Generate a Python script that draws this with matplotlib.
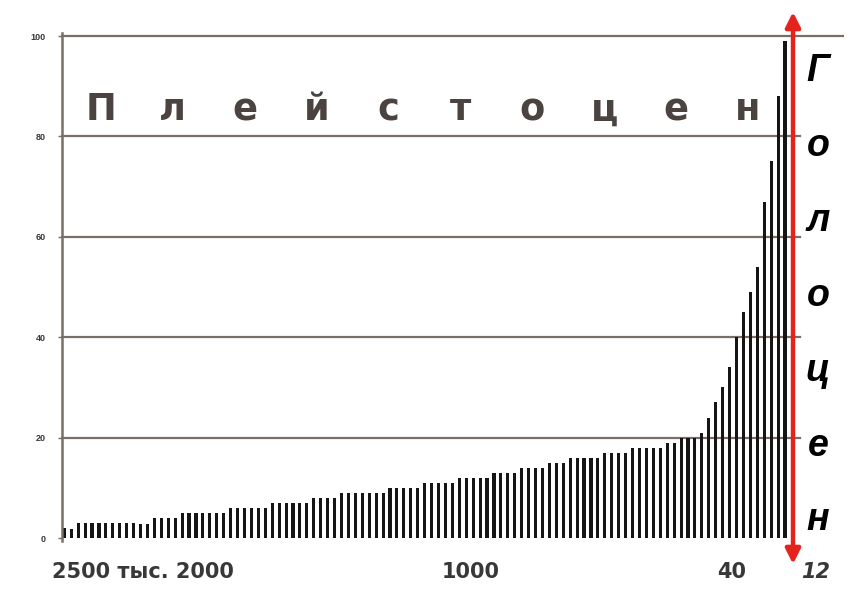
import numpy as np
import matplotlib.pyplot as plt

# bar heights, oldest (left) to youngest (right)
heights = [2, 1.8, 3, 3, 3, 3, 3, 3, 3, 3, 3, 2.8, 2.8,
           4, 4, 4, 4,
           5, 5, 5, 5, 5, 5, 5,
           6, 6, 6, 6, 6, 6,
           7, 7, 7, 7, 7, 7,
           8, 8, 8, 8,
           9, 9, 9, 9, 9, 9, 9,
           10, 10, 10, 10, 10,
           11, 11, 11, 11, 11,
           12, 12, 12, 12, 12,
           13, 13, 13, 13,
           14, 14, 14, 14,
           15, 15, 15,
           16, 16, 16, 16, 16,
           17, 17, 17, 17,
           18, 18, 18, 18, 18,
           19, 19,
           20, 20, 20,
           21, 24, 27, 30, 34, 40, 45, 49, 54, 67, 75, 88, 99]

y_ticks = [0, 20, 40, 60, 80, 100]
x_labels = ["2500 тыс. 2000", "1000", "40", "12"]
pleistocene = "Плейстоцен"
holocene = "Голоцен"

W, H = 851, 610
fig = plt.figure(figsize=(W / 100, H / 100), dpi=100)
fig.patch.set_facecolor("white")

# axes box in pixels: left 62, right 793, bottom 538, top 36
ax = fig.add_axes([62 / W, (H - 538) / H, (793 - 62) / W, (538 - 36) / H])
px = 6.93  # pixels per bar step
x0 = -(64.3 - 62) / px
x1 = (793 - 64.3) / px
ax.set_xlim(x0, x1)
ax.set_ylim(0, 100)

def to_data(xpix):
    return (xpix - 64.3) / px

grid_col = "#7a6e69"
txt_col = "#383838"

x = np.arange(len(heights))
ax.bar(x, heights, width=0.45, color="#151515", zorder=3)

# horizontal grid lines, running a little past the arrow
for yv in y_ticks[1:]:
    xend = to_data(843) if yv == 100 else to_data(800)
    ax.plot([x0, xend], [yv, yv], color=grid_col, lw=1.6, clip_on=False, zorder=2)
ax.plot([x0, x1], [0, 0], color="#999999", lw=0.8, ls=(0, (1, 1.5)), zorder=2)

for s in ax.spines.values():
    s.set_visible(False)
ax.plot([x0, x0], [-0.5, 100.6], color=grid_col, lw=1.8, clip_on=False, zorder=4)

ax.set_xticks([])
ax.set_yticks(y_ticks)
ax.set_yticklabels([str(v) for v in y_ticks], fontsize=6.5, fontweight="bold",
                   color=txt_col, family="Liberation Sans")
ax.tick_params(axis="y", length=3, width=1, color=grid_col, pad=9)

# red double arrow on the right
ax.annotate("", xy=(1, 1.048), xytext=(1, -0.052), xycoords="axes fraction",
            arrowprops=dict(arrowstyle="<|-|>", color="#e3231c", lw=3.2,
                            mutation_scale=22, shrinkA=0, shrinkB=0))

# bottom labels (time scale)
lab_x = [to_data(52), to_data(471), to_data(732), to_data(816)]
lab_ha = ["left", "center", "center", "center"]
for i, (lx, lab) in enumerate(zip(lab_x, x_labels)):
    ax.text(lx, -6.7, lab, ha=lab_ha[i], va="center", fontsize=15,
            fontweight="bold", color=txt_col, family="DejaVu Sans",
            fontstyle="oblique" if i == 3 else "normal",
            clip_on=False)

# spaced-out "Pleistocene" label
p_x = np.linspace(to_data(101), to_data(748), len(pleistocene))
for lx, ch in zip(p_x, pleistocene):
    ax.text(lx, 83.2, ch, ha="center", va="baseline", fontsize=26.5,
            fontweight="bold", color="#4b4340", family="DejaVu Sans")

# vertical "Holocene" label right of the arrow
h_y = np.linspace(93, 3.5, len(holocene))
for ly, ch in zip(h_y, holocene):
    ax.text(to_data(818), ly, ch, ha="center", va="center", fontsize=27,
            fontweight="bold", fontstyle="italic", color="black",
            family="Liberation Sans", clip_on=False)

fig.savefig("out.png", dpi=100, facecolor="white")
